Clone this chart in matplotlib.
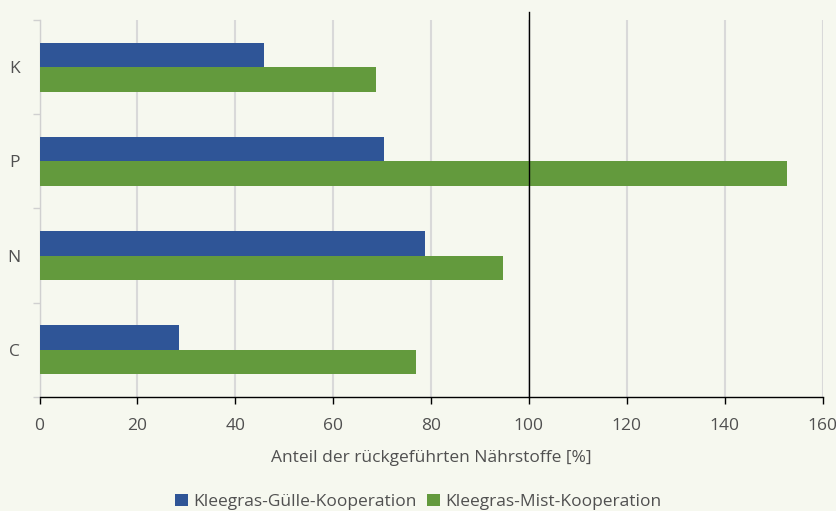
import matplotlib
matplotlib.use("Agg")
import matplotlib.pyplot as plt
import numpy as np

categories = ["C", "N", "P", "K"]
guelle = [28.6, 78.7, 70.4, 45.9]
mist = [77.0, 94.7, 152.7, 68.7]
series_names = ["Kleegras-Gülle-Kooperation", "Kleegras-Mist-Kooperation"]
xticks = [0, 20, 40, 60, 80, 100, 120, 140, 160]
xlabel = "Anteil der rückgeführten Nährstoffe [%]"

bg = "#F6F8EF"
blue = "#2F5597"
green = "#639A3D"
txt = "#505050"

plt.rcParams['font.family'] = ['Open Sans', 'DejaVu Sans']
fs = 12.5

fig = plt.figure(figsize=(8.37, 5.11), dpi=100, facecolor=bg)
ax = fig.add_axes([0.0472, 0.2231, 0.9355, 0.7378])
ax.set_facecolor(bg)

y = np.arange(len(categories))
h = 0.26
ax.barh(y + h / 2, guelle, height=h, color=blue, label=series_names[0], zorder=3)
ax.barh(y - h / 2, mist, height=h, color=green, label=series_names[1], zorder=3)

ax.set_xlim(0, 160)
ax.set_ylim(-0.5, len(categories) - 0.5)
ax.set_xticks(xticks)
ax.set_yticks(y)
ax.set_yticklabels(categories)
ax.set_yticks(np.arange(-0.5, len(categories), 1), minor=True)
ax.tick_params(axis='y', which='major', length=0, pad=14, labelsize=fs, labelcolor=txt)
ax.tick_params(axis='y', which='minor', length=5, color="#D0D0D0", width=1)
ax.tick_params(axis='x', which='major', length=5, color="black", width=1, labelsize=fs, labelcolor=txt, pad=10)

ax.grid(axis='x', color="#D9D9D9", linewidth=1.5, zorder=0)
ax.set_axisbelow(True)
for s in ["top", "right"]:
    ax.spines[s].set_visible(False)
ax.spines["left"].set_color("#D0D0D0")
ax.spines["left"].set_linewidth(1)
ax.spines["bottom"].set_color("black")
ax.spines["bottom"].set_linewidth(1)

ax.axvline(100, ymin=0, ymax=1.022, color="black", linewidth=1, zorder=4, clip_on=False)

ax.set_xlabel(xlabel, fontsize=fs, color=txt, labelpad=12)

handles, labels = ax.get_legend_handles_labels()
leg = fig.legend(handles, labels, loc='center', bbox_to_anchor=(0.5, 0.018), ncol=2,
                 frameon=False, fontsize=fs, handlelength=0.75, handleheight=0.75,
                 handletextpad=0.3, columnspacing=0.6, labelcolor=txt)

fig.savefig("out.png", dpi=100, facecolor=bg)
